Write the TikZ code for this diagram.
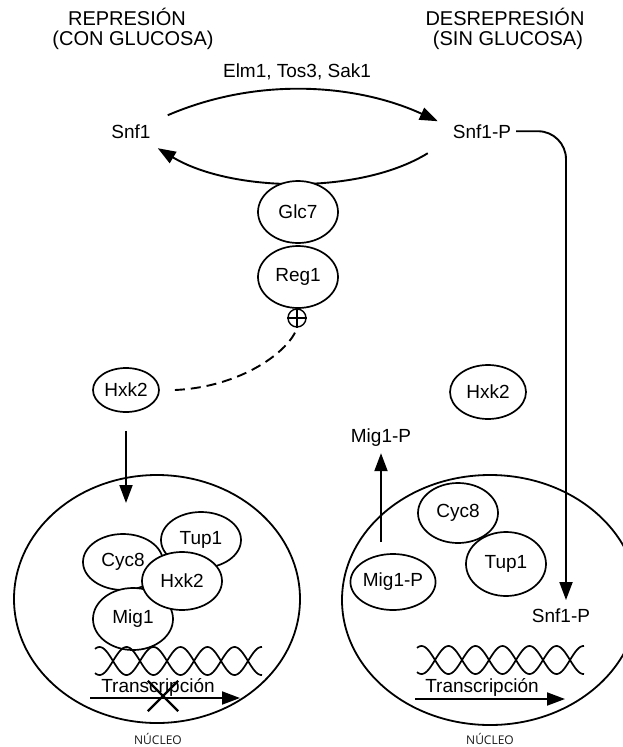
\documentclass[tikz,border=0pt]{standalone}
\usepackage{fontspec}
\setmainfont{Liberation Sans}
\newfontfamily\nucfont{Open Sans}
\usetikzlibrary{arrows.meta,shapes.geometric,shapes.misc}
\tikzset{
  >={Triangle[length=18pt,width=13pt]},
  prot/.style={ellipse,draw,fill=white,line width=1.7pt,inner sep=0pt,
    minimum width=80pt,minimum height=58pt},
  txt/.style={anchor=base,inner sep=0pt},
  heading/.style={anchor=base,inner sep=0pt,font=\fontsize{20}{22}\selectfont},
  link/.style={line width=1.9pt},
  helix/.style={line width=1.7pt},
  nuclabel/.style={anchor=base,inner sep=0pt,font=\nucfont\fontsize{12}{14}\selectfont,text=black!90}
}

\begin{document}
\begin{tikzpicture}[x=1pt,y=-1pt,font=\fontsize{19}{21}\selectfont]
\useasboundingbox (0,0) rectangle (622,747);

% headings
\node[heading] (repA) at (127,25) {REPRESIÓN};
\node[heading] (repB) at (133,45) {(CON GLUCOSA)};
\node[heading] (desA) at (505,25) {DESREPRESIÓN};
\node[heading] (desB) at (508,45) {(SIN GLUCOSA)};

% Snf1 cycle
\node[txt] (kin) at (297,77) {Elm1, Tos3, Sak1};
\node[txt] (snf) at (131,138) {Snf1};
\node[txt] (snfp) at (482,138) {Snf1-P};
\draw[link,->] ([xshift=17pt,yshift=16pt]snf.east)
  .. controls +(93,-40) and +(-78,-36) .. ([xshift=-15pt,yshift=10pt]snfp.west);
\draw[link,->] ([xshift=-25pt,yshift=-22pt]snfp.west)
  .. controls +(-68,42) and +(73,44) .. ([xshift=7pt,yshift=-17pt]snf.east);

% phosphatase
\node[prot,minimum height=62pt] (glc) at (298,212) {Glc7};
\node[prot,minimum height=62pt] (reg) at (298,277) {Reg1};
\node[circle,draw,line width=1.4pt,minimum size=18pt,inner sep=0pt] (plus) at (297,318) {};
\draw[line width=1.4pt] (plus.north) -- (plus.south) (plus.west) -- (plus.east);

% cytoplasm
\node[prot,minimum width=66pt,minimum height=44pt] (hxkL) at (126,390) {Hxk2};
\node[prot,minimum width=76pt,minimum height=54pt] (hxkR) at (488,392) {Hxk2};
\draw[link,dash pattern=on 10pt off 6pt] ([xshift=15pt]hxkL.east)
  .. controls +(67,-3) and +(-7,23) .. (plus.south);

% nuclei
\node[ellipse,draw,line width=1.8pt,minimum width=286pt,minimum height=248pt] (nucL) at (157,599) {};
\node[ellipse,draw,line width=1.8pt,minimum width=296pt,minimum height=250pt] (nucR) at (490,600) {};
\node[nuclabel] (nucLlbl) at (158,744) {NÚCLEO};
\node[nuclabel] (nucRlbl) at (490,744) {NÚCLEO};

\coordinate (hxkin) at (126,503);
\draw[link,->] ([yshift=-18pt]hxkL.south) -- (hxkin);

% repression complex
\node[prot,minimum height=56pt] (cycL) at (123,562) {Cyc8};
\node[prot,minimum height=56pt] (tupL) at (201,540) {Tup1};
\node[prot,minimum height=62pt] (migL) at (133,619) {Mig1};
\node[prot] (hxkN) at (182,581) {Hxk2};

% derepression
\node[prot,minimum height=60pt] (cycR) at (458,513) {Cyc8};
\node[prot,minimum height=64pt] (tupR) at (506,564) {Tup1};
\node[prot,minimum height=56pt] (migR) at (393,582) {Mig1-P};
\node[txt] (migout) at (381,442) {Mig1-P};
\draw[link,->] ([xshift=-12pt,yshift=11pt]migR.north) -- ([yshift=-7pt]migout.south);
\node[txt] (snfpin) at (561,622) {Snf1-P};
\draw[link,->,rounded corners=28pt] ([xshift=5pt]snfp.east) -| ([xshift=5pt,yshift=8pt]snfpin.north);

% DNA and transcription
\foreach \s in {1,-1} {
  \draw[helix] plot[domain=95:262,samples=120,smooth] (\x,{661+\s*14*sin(6.6667*(\x-113))});
  \draw[helix] plot[domain=417:584,samples=120,smooth] (\x,{660+\s*14*sin(6.6667*(\x-435))});
}
\node[txt] (trL) at (158,692) {Transcripción};
\node[txt] (trR) at (482,692) {Transcripción};
\coordinate (trLa) at (90,698);
\coordinate (trLb) at (240,698);
\coordinate (trRa) at (415,699);
\coordinate (trRb) at (565,699);
\draw[link,->] (trLa) -- (trLb);
\draw[link,->] (trRa) -- (trRb);
\node[cross out,draw,line width=2.4pt,minimum size=28pt,inner sep=0pt] (block) at (163,696) {};
\end{tikzpicture}
\end{document}
